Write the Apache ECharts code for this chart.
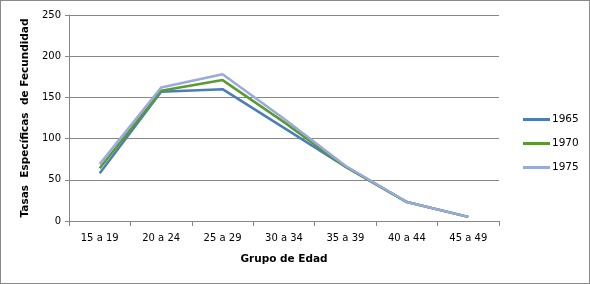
<!DOCTYPE html>
<html>
<head>
<meta charset="utf-8">
<script src="https://cdn.jsdelivr.net/npm/echarts@6/dist/echarts.min.js"></script>
<style>
html,body{margin:0;padding:0;background:#fff;}
#c{width:588px;height:282px;border:1px solid #898989;}
</style>
</head>
<body>
<div id="c"></div>
<script>
var categories = ['15 a 19','20 a 24','25 a 29','30 a 34','35 a 39','40 a 44','45 a 49'];
var s1965 = [58, 157, 160, 113, 66, 23, 5];
var s1970 = [64, 158, 171, 120, 66, 23, 5];
var s1975 = [69, 162, 178, 124, 67, 23, 5];
var seriesNames = ['1965','1970','1975'];
var colors = ['#4A7EBB','#5B9A31','#99AADB'];

var chart = echarts.init(document.getElementById('c'));
var font = 'DejaVu Sans';
chart.setOption({
  animation:false,
  color: colors,
  grid:{left:68,right:90,top:14,bottom:62,containLabel:false},
  legend:{
    orient:'vertical', left:517, top:108,
    itemWidth:27, itemHeight:3, itemGap:13,
    icon:'rect',
    textStyle:{fontFamily:font,fontSize:10.5,color:'#000',padding:[0,0,0,-3]},
    data:seriesNames
  },
  xAxis:{
    type:'category', data:categories, boundaryGap:true,
    name:'Grupo de Edad', nameLocation:'middle', nameGap:33,
    nameTextStyle:{fontFamily:font,fontSize:10.5,fontWeight:'bold',color:'#000'},
    axisLine:{lineStyle:{color:'#878787'}},
    axisTick:{show:true,length:5,lineStyle:{color:'#878787'}},
    axisLabel:{fontFamily:font,fontSize:10,color:'#000',margin:12}
  },
  yAxis:{
    type:'value', min:0, max:250, interval:50,
    name:'Tasas  Específicas  de Fecundidad', nameLocation:'middle', nameGap:36,
    nameTextStyle:{fontFamily:font,fontSize:10.5,fontWeight:'bold',color:'#000'},
    axisLine:{show:true,lineStyle:{color:'#878787'}},
    axisTick:{show:true,length:4,lineStyle:{color:'#878787'}},
    axisLabel:{fontFamily:font,fontSize:10,color:'#000',margin:8},
    splitLine:{lineStyle:{color:'#878787'}}
  },
  series:[
    {name:'1965',type:'line',data:s1965,symbol:'none',lineStyle:{width:2.5}},
    {name:'1970',type:'line',data:s1970,symbol:'none',lineStyle:{width:2.5}},
    {name:'1975',type:'line',data:s1975,symbol:'none',lineStyle:{width:2.5}}
  ]
});
</script>
</body>
</html>
